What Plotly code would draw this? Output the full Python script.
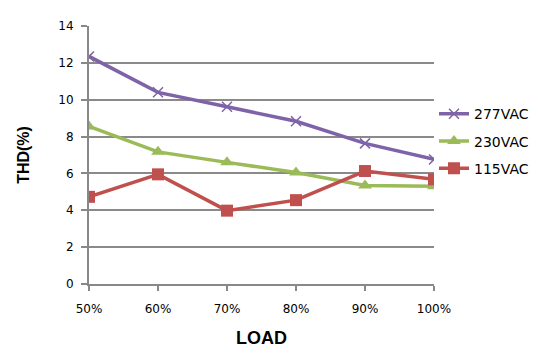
import plotly.graph_objects as go

categories = ["50%", "60%", "70%", "80%", "90%", "100%"]
v277 = [12.35, 10.4, 9.62, 8.83, 7.63, 6.76]
v230 = [8.55, 7.17, 6.6, 6.05, 5.35, 5.3]
v115 = [4.73, 5.95, 3.98, 4.55, 6.13, 5.68]
y_ticks = [0, 2, 4, 6, 8, 10, 12, 14]

x = list(range(len(categories)))

fig = go.Figure()
fig.add_trace(go.Scatter(
    x=x, y=v277, name="277VAC", mode="lines+markers", legendgroup="a",
    line=dict(color="#7F63A8", width=3.5),
    marker=dict(symbol="x-thin", size=10, line=dict(color="#7F63A8", width=1.5)),
))
fig.add_trace(go.Scatter(
    x=x, y=v230, name="230VAC", mode="lines+markers", legendgroup="b",
    line=dict(color="#9BBB59", width=3.5),
    marker=dict(symbol="triangle-up", size=12, color="#9BBB59"),
))
fig.add_trace(go.Scatter(
    x=x, y=v115, name="115VAC", mode="lines+markers", legendgroup="c",
    line=dict(color="#C0504D", width=3.5),
    marker=dict(symbol="square", size=12, color="#C0504D"),
))

tick_font = dict(family="DejaVu Sans, sans-serif", size=12, color="#000000")
title_family = "Liberation Sans Narrow, Arial Narrow, Liberation Sans, sans-serif"

fig.update_layout(
    width=531, height=348,
    margin=dict(l=81, r=105, t=18, b=72, autoexpand=False),
    paper_bgcolor="white", plot_bgcolor="white",
    showlegend=True,
    legend=dict(
        x=1.0, xanchor="left", y=0.72, yanchor="top",
        font=dict(family="DejaVu Sans, sans-serif", size=14, color="#000000"),
        tracegroupgap=6, itemwidth=30,
        bgcolor="rgba(0,0,0,0)",
    ),
    xaxis=dict(
        range=[0, len(categories) - 1], automargin=False,
        tickmode="array", tickvals=x, ticktext=categories,
        showgrid=False, zeroline=False,
        showline=True, linecolor="#888888", linewidth=2,
        ticks="outside", ticklen=5, tickcolor="#888888", tickwidth=2,
        ticklabelstandoff=8,
        tickfont=tick_font,
        title=dict(text="<b>LOAD</b>", font=dict(family=title_family, size=18, color="#000000"), standoff=16),
    ),
    yaxis=dict(
        range=[0, 14], automargin=False,
        tickmode="array", tickvals=y_ticks,
        showgrid=True, gridcolor="#8A8A8A", gridwidth=1.5,
        zeroline=False,
        showline=True, linecolor="#888888", linewidth=2,
        ticks="outside", ticklen=6, tickcolor="#888888", tickwidth=2,
        ticklabelstandoff=5,
        tickfont=tick_font,
        title=dict(text="<b>THD(%)</b>", font=dict(family=title_family, size=16, color="#000000"), standoff=25),
    ),
)

fig.write_html("out.html")
